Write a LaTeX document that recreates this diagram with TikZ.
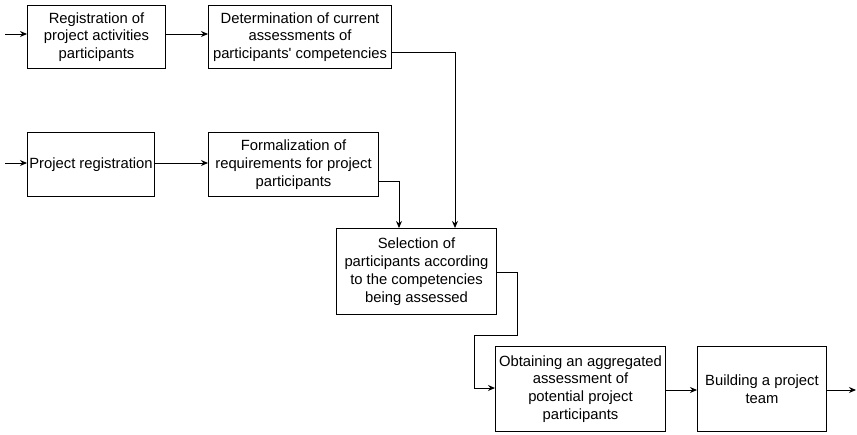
\documentclass[tikz,border=0pt]{standalone}
\usepackage{fontspec}
\newfontfamily\lsans{Liberation Sans}
\usetikzlibrary{arrows.meta,calc}
\begin{document}
\begin{tikzpicture}[x=1pt,y=-1pt,
  box/.style={draw,line width=1pt,anchor=north west,align=center,inner sep=0pt,
    font=\lsans\fontsize{14.8}{17.8}\selectfont},
  conn/.style={line width=1pt,-{Stealth[length=7pt,width=6pt]}}]
\useasboundingbox (0,0) rectangle (857,434);
\node[box,minimum width=138pt,minimum height=63pt] (b1) at (27,5) {Registration of\\project activities\\participants};
\node[box,minimum width=183pt,minimum height=63pt] (b2) at (208,5) {Determination of current\\assessments of\\participants' competencies};
\node[box,minimum width=127pt,minimum height=64pt] (b3) at (27,132) {Project registration};
\node[box,minimum width=170pt,minimum height=64pt] (b4) at (208,132) {Formalization of\\requirements for project\\participants};
\node[box,minimum width=160pt,minimum height=86pt] (b5) at (336,228) {Selection of\\participants according\\to the competencies\\being assessed};
\node[box,minimum width=170pt,minimum height=85pt] (b6) at (495,346) {Obtaining an aggregated\\assessment of\\potential project\\participants};
\node[box,minimum width=129pt,minimum height=85pt] (b7) at (697,346) {Building a project\\team};
\coordinate (in1) at (5,34);
\coordinate (in2) at (5,163);
\coordinate (out) at (856,390);
\draw[conn] (in1) -- (in1 -| b1.west);
\draw[conn] (b1.east |- in1) -- (b2.west |- in1);
\draw[conn] (b2.east |- 0,52) -| (455,0 |- b5.north);
\draw[conn] (in2) -- (in2 -| b3.west);
\draw[conn] (b3.east |- in2) -- (b4.west |- in2);
\draw[conn] (b4.east |- 0,181) -| (399,0 |- b5.north);
\draw[conn] (b5.east |- 0,272) -- (517,272) -- (517,335) -- (474,335) -- (474,388) -- (b6.west |- 0,388);
\draw[conn] (b6.east |- out) -- (b7.west |- out);
\draw[conn] (b7.east |- out) -- (out);
\end{tikzpicture}
\end{document}
